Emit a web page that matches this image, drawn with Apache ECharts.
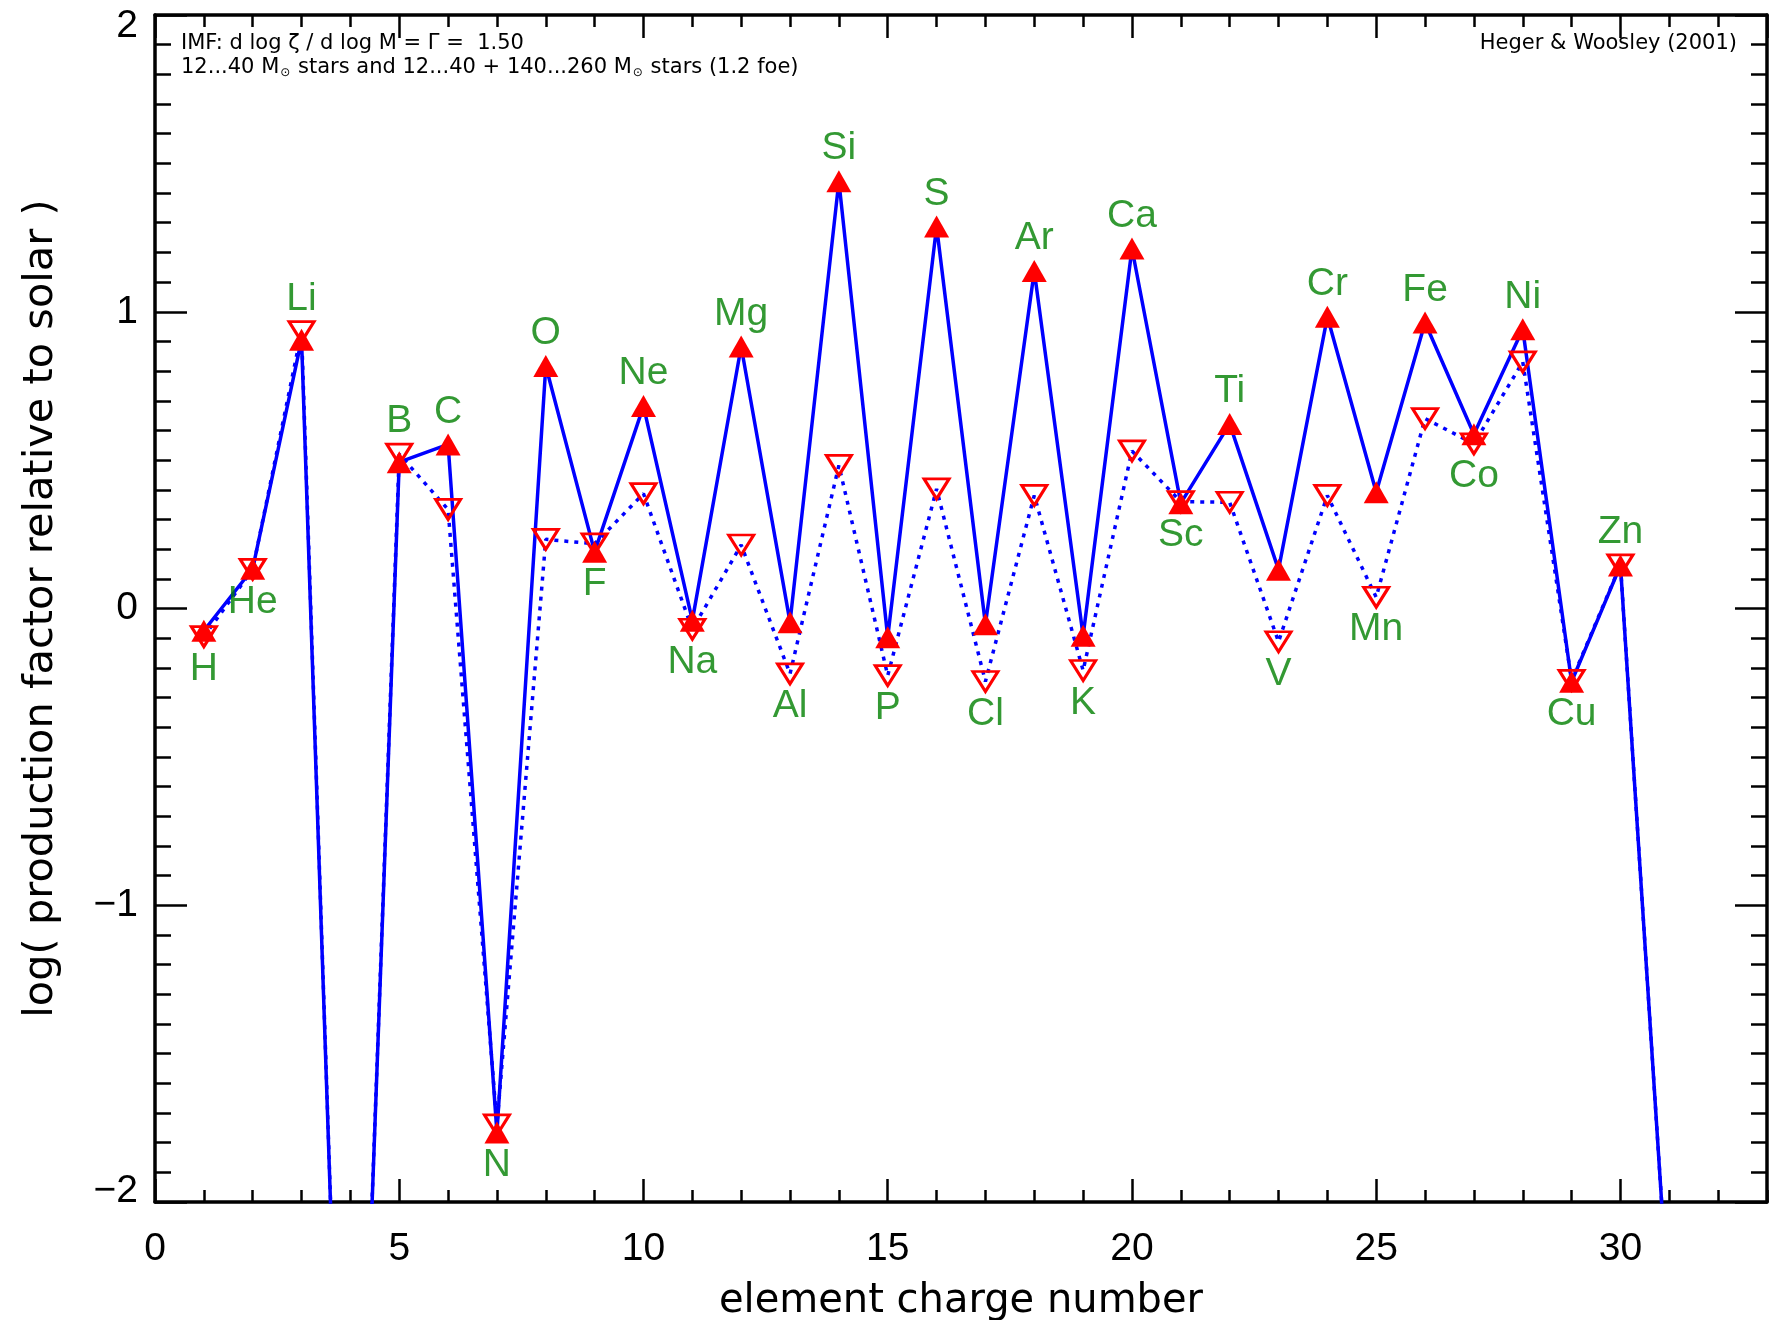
<!DOCTYPE html>
<html>
<head>
<meta charset="utf-8">
<script src="https://cdn.jsdelivr.net/npm/echarts@6/dist/echarts.min.js"></script>
<style>
  html, body { margin: 0; padding: 0; background: #fff; }
  #chart { width: 1771px; height: 1320px; }
</style>
</head>
<body>
<div id="chart"></div>
<script>
// ---- data ----
const chargeNumbers = [1,2,3,4,5,6,7,8,9,10,11,12,13,14,15,16,17,18,19,20,21,22,23,24,25,26,27,28,29,30,31];
const elementNames = ['H','He','Li','Be','B','C','N','O','F','Ne','Na','Mg','Al','Si','P','S','Cl','Ar','K','Ca','Sc','Ti','V','Cr','Mn','Fe','Co','Ni','Cu','Zn','Ga'];
// 12...40 Msun stars (filled triangles, solid line)
const logPFStandard = [-0.075, 0.134, 0.906, -4.0, 0.493, 0.553, -1.766, 0.817, 0.191, 0.682, -0.041, 0.883, -0.046, 1.440, -0.097, 1.287, -0.053, 1.137, -0.092, 1.213, 0.355, 0.622, 0.131, 0.983, 0.392, 0.964, 0.587, 0.941, -0.247, 0.145, -2.4];
// 12...40 + 140...260 Msun stars (open triangles, dotted line)
const logPFWithPISN = [-0.095, 0.132, 0.933, -4.0, 0.520, 0.334, -1.740, 0.233, 0.218, 0.387, -0.070, 0.214, -0.220, 0.482, -0.226, 0.403, -0.246, 0.381, -0.209, 0.531, 0.360, 0.358, -0.112, 0.381, 0.038, 0.640, 0.555, 0.831, -0.242, 0.147, -2.4];
// label side: a = above, b = below, '' = none
const labelSide = ['b','b','a','','a','a','b','a','b','a','b','a','b','a','b','a','b','a','b','a','b','a','b','a','b','a','b','a','b','a',''];
const yTickLabels = {'2':'{top|2}','1':'1','0':'0','-1':'\u22121','-2':'{bot|\u22122}'};

const annotation1 = 'IMF: d log \u03B6 / d log M = \u0393 =  1.50';
const annotation2 = '12...40 M{s|\u2299} stars and 12...40 + 140...260 M{s|\u2299} stars (1.2 foe)';
const annotation3 = 'Heger & Woosley (2001)';
const xTitle = 'element charge number';
const yTitle = 'log( production factor relative to solar )';

// ---- build ----
const solidData = chargeNumbers.map((z, i) => [z, logPFStandard[i]]);
const dottedData = chargeNumbers.map((z, i) => [z, logPFWithPISN[i]]);
const labelData = [];
chargeNumbers.forEach((z, i) => {
  if (!labelSide[i]) return;
  const up = labelSide[i] === 'a';
  const v = up ? Math.max(logPFStandard[i], logPFWithPISN[i]) : Math.min(logPFStandard[i], logPFWithPISN[i]);
  labelData.push({
    value: [z, v],
    name: elementNames[i],
    label: { position: up ? 'top' : 'bottom', distance: 12.5 }
  });
});

const AX = '#000';
const tickFont = { fontFamily: 'Liberation Sans', fontSize: 39, color: '#000' };

function xAx(pos, interval, len, showLine, showLabel) {
  return {
    type: 'value', position: pos, min: 0, max: 33, interval: interval,
    axisLine: { show: showLine, onZero: false, lineStyle: { color: AX, width: 3.5 } },
    axisTick: { show: true, inside: true, length: len, lineStyle: { color: AX, width: 2.5 } },
    axisLabel: showLabel ? Object.assign({ show: true, margin: 28, showMaxLabel: false }, tickFont) : { show: false },
    splitLine: { show: false }
  };
}
function yAx(pos, showLabel) {
  return {
    type: 'value', position: pos, min: -2, max: 2, interval: 1,
    axisLine: { show: true, onZero: false, lineStyle: { color: AX, width: 3.5 } },
    axisTick: { show: true, inside: true, length: 32, lineStyle: { color: AX, width: 2.5 } },
    minorTick: { show: true, splitNumber: 10, length: 16, lineStyle: { color: AX, width: 2.5 } },
    axisLabel: showLabel ? Object.assign({
      show: true, margin: 17,
      formatter: v => yTickLabels[String(v)] || String(v),
      rich: {
        top: { fontFamily: 'Liberation Sans', fontSize: 39, color: '#000', padding: [22, 0, 0, 0] },
        bot: { fontFamily: 'Liberation Sans', fontSize: 39, color: '#000', padding: [0, 0, 22, 0] }
      }
    }, tickFont) : { show: false },
    splitLine: { show: false }, minorSplitLine: { show: false }
  };
}

const xAxes = [
  xAx('bottom', 5, 23, true, true),
  xAx('bottom', 1, 12, false, false),
  xAx('top', 5, 23, true, false),
  xAx('top', 1, 12, false, false)
];
Object.assign(xAxes[0], {
  name: xTitle, nameLocation: 'middle', nameGap: 80,
  nameTextStyle: { fontFamily: 'DejaVu Sans', fontSize: 40, color: '#000' }
});
const yAxes = [yAx('left', true), yAx('right', false)];
Object.assign(yAxes[0], {
  name: yTitle, nameLocation: 'middle', nameGap: 93,
  nameTextStyle: { fontFamily: 'DejaVu Sans', fontSize: 41.5, color: '#000' }
});

const chart = echarts.init(document.getElementById('chart'), null, { renderer: 'canvas' });
chart.setOption({
  backgroundColor: '#fff',
  animation: false,
  grid: { left: 155, right: 4, top: 15, bottom: 118, containLabel: false, outerBoundsMode: 'none' },
  xAxis: xAxes,
  yAxis: yAxes,
  graphic: [
    { type: 'text', x: 181, y: 44, z: 10,
      style: { text: annotation1, font: '21px "DejaVu Sans"', fill: '#000', verticalAlign: 'middle', textVerticalAlign: 'middle' } },
    { type: 'text', x: 181, y: 68, z: 10,
      style: { text: annotation2, font: '21px "DejaVu Sans"', fill: '#000', verticalAlign: 'middle', textVerticalAlign: 'middle',
        rich: { s: { fontFamily: 'DejaVu Sans', fontSize: 12, verticalAlign: 'bottom', lineHeight: 12, padding: [0, 1, 0, 1] } } } },
    { type: 'text', x: 1737, y: 44, z: 10,
      style: { text: annotation3, font: '21px "DejaVu Sans"', fill: '#000', align: 'right', textAlign: 'right', verticalAlign: 'middle', textVerticalAlign: 'middle' } }
  ],
  series: [
    { type: 'line', data: solidData, xAxisIndex: 0, yAxisIndex: 0, showSymbol: false, symbol: 'none', z: 2, clip: true,
      lineStyle: { color: '#0000ff', width: 3.5, type: 'solid' } },
    { type: 'line', data: dottedData, xAxisIndex: 0, yAxisIndex: 0, showSymbol: false, symbol: 'none', z: 2, clip: true,
      lineStyle: { color: '#0000ff', width: 3.5, type: [4, 6] } },
    { type: 'scatter', data: dottedData, xAxisIndex: 0, yAxisIndex: 0, symbol: 'triangle', symbolRotate: 180, symbolSize: [25, 20], z: 3, clip: true,
      itemStyle: { color: 'rgba(255,255,255,0)', borderColor: '#ff0000', borderWidth: 3, opacity: 1 } },
    { type: 'scatter', data: solidData, xAxisIndex: 0, yAxisIndex: 0, symbol: 'triangle', symbolSize: [25, 22], z: 4, clip: true,
      itemStyle: { color: '#ff0000', opacity: 1 } },
    { type: 'scatter', data: labelData, xAxisIndex: 0, yAxisIndex: 0, symbol: 'circle', symbolSize: 1, z: 5, silent: true,
      itemStyle: { color: 'rgba(0,0,0,0)' },
      label: { show: true, formatter: p => p.name, fontFamily: 'Liberation Sans', fontSize: 39, color: '#007f00' } }
  ]
});
</script>
</body>
</html>
